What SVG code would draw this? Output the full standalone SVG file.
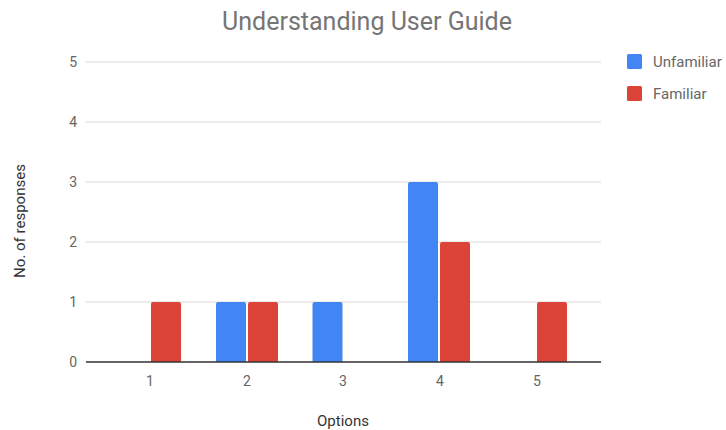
<svg xmlns="http://www.w3.org/2000/svg" width="726" height="430" viewBox="0 0 726 430">
<style>
.grid{stroke:#d9d9d9;stroke-width:1}
.base{stroke:#333;stroke-width:1.3}
.tick{font-family:Roboto,"Liberation Sans",sans-serif;font-size:14px;fill:#666}
.title{font-family:Roboto,"Liberation Sans",sans-serif;font-size:25px;fill:#757575}
.axis{font-family:Roboto,"Liberation Sans",sans-serif;font-size:15px;fill:#333}
.leg{font-family:Roboto,"Liberation Sans",sans-serif;font-size:15px;fill:#666}
.blue{fill:#4285F4}
.red{fill:#DB4437}
</style>
<rect width="726" height="430" fill="#fff"/>
<text class="title" x="367" y="30" text-anchor="middle">Understanding User Guide</text>
<g id="grid">
<line class="grid" x1="86" y1="62" x2="601" y2="62"/>
<line class="grid" x1="86" y1="122" x2="601" y2="122"/>
<line class="grid" x1="86" y1="182" x2="601" y2="182"/>
<line class="grid" x1="86" y1="242" x2="601" y2="242"/>
<line class="grid" x1="86" y1="302" x2="601" y2="302"/>
</g>
<g id="yticks">
<text class="tick" x="77" y="67" text-anchor="end">5</text>
<text class="tick" x="77" y="127" text-anchor="end">4</text>
<text class="tick" x="77" y="187" text-anchor="end">3</text>
<text class="tick" x="77" y="247" text-anchor="end">2</text>
<text class="tick" x="77" y="307" text-anchor="end">1</text>
<text class="tick" x="77" y="367" text-anchor="end">0</text>
</g>
<g id="bars">
<path class="red" d="M151,362 V304 Q151,302 153,302 H179 Q181,302 181,304 V362 Z"/>
<path class="blue" d="M216,362 V304 Q216,302 218,302 H244 Q246,302 246,304 V362 Z"/>
<path class="red" d="M248,362 V304 Q248,302 250,302 H276 Q278,302 278,304 V362 Z"/>
<path class="blue" d="M312.5,362 V304 Q312.5,302 314.5,302 H340.5 Q342.5,302 342.5,304 V362 Z"/>
<path class="blue" d="M408,362 V184 Q408,182 410,182 H436 Q438,182 438,184 V362 Z"/>
<path class="red" d="M440,362 V244 Q440,242 442,242 H468 Q470,242 470,244 V362 Z"/>
<path class="red" d="M537,362 V304 Q537,302 539,302 H565 Q567,302 567,304 V362 Z"/>
</g>
<line class="base" x1="86" y1="362" x2="601" y2="362"/>
<g id="xticks">
<text class="tick" x="150" y="386" text-anchor="middle">1</text>
<text class="tick" x="247" y="386" text-anchor="middle">2</text>
<text class="tick" x="343" y="386" text-anchor="middle">3</text>
<text class="tick" x="440" y="386" text-anchor="middle">4</text>
<text class="tick" x="537" y="386" text-anchor="middle">5</text>
</g>
<text class="axis" x="343" y="426" text-anchor="middle">Options</text>
<text class="axis" transform="translate(25,221) rotate(-90)" text-anchor="middle">No. of responses</text>
<g id="legend-unfamiliar">
<rect class="blue" x="627" y="54" width="15" height="15" rx="1.5"/>
<text class="leg" x="653" y="67">Unfamiliar</text>
</g>
<g id="legend-familiar">
<rect class="red" x="627" y="86" width="15" height="15" rx="1.5"/>
<text class="leg" x="653" y="99">Familiar</text>
</g>
</svg>
